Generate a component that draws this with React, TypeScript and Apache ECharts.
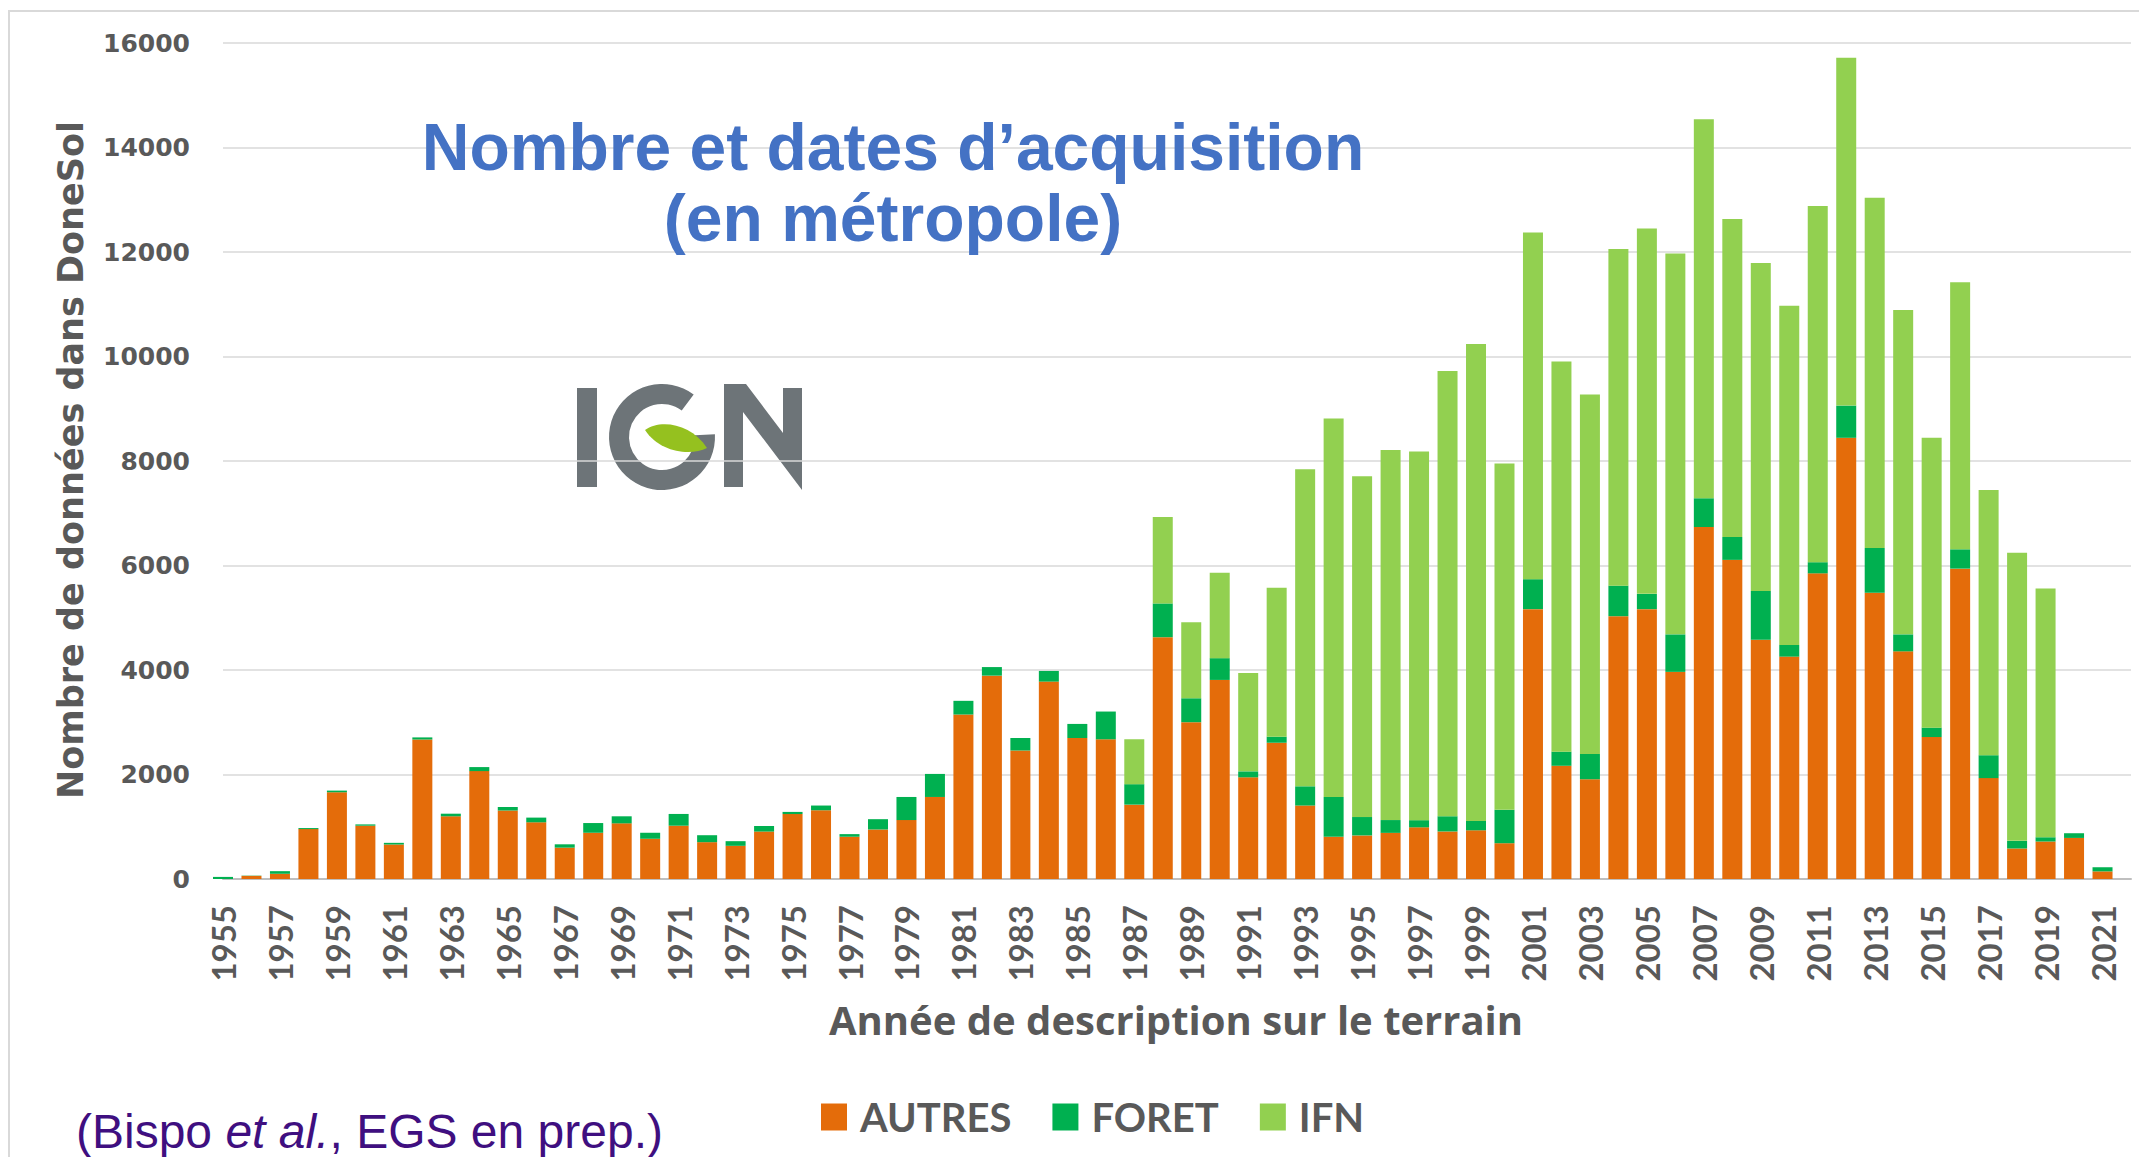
import React, { useEffect, useRef } from 'react';
import * as echarts from 'echarts';

const years = [
  '1955', '1956', '1957', '1958', '1959', '1960', '1961', '1962', '1963', '1964',
  '1965', '1966', '1967', '1968', '1969', '1970', '1971', '1972', '1973', '1974',
  '1975', '1976', '1977', '1978', '1979', '1980', '1981', '1982', '1983', '1984',
  '1985', '1986', '1987', '1988', '1989', '1990', '1991', '1992', '1993', '1994',
  '1995', '1996', '1997', '1998', '1999', '2000', '2001', '2002', '2003', '2004',
  '2005', '2006', '2007', '2008', '2009', '2010', '2011', '2012', '2013', '2014',
  '2015', '2016', '2017', '2018', '2019', '2020', '2021', '2022',
];

const autres = [
  0, 60, 100, 955, 1660, 1020, 660, 2670, 1200, 2065,
  1310, 1085, 600, 885, 1065, 770, 1020, 705, 635, 908,
  1243, 1316, 809, 948, 1128, 1570, 3148, 3892, 2461, 3778,
  2698, 2674, 1423, 4628, 3001, 3810, 1946, 2608, 1406, 809,
  834, 883, 989, 910, 932, 685, 5165, 2167, 1909, 5030,
  5165, 3964, 6737, 6108, 4581, 4256, 5850, 8444, 5479, 4357,
  2717, 5940, 1931, 584, 719, 786, 146,
];

const foret = [
  40, 5, 50, 20, 32, 25, 32, 40, 50, 77,
  70, 90, 64, 186, 135, 115, 225, 133, 89, 106,
  41, 90, 50, 197, 442, 441, 262, 164, 237, 204,
  270, 531, 392, 646, 458, 417, 114, 115, 368, 761,
  352, 245, 137, 291, 180, 640, 573, 270, 483, 584,
  292, 718, 550, 438, 932, 224, 213, 617, 854, 325,
  180, 370, 438, 146, 78, 90, 79,
];

const ifn = [
  0, 0, 0, 0, 0, 0, 0, 0, 0, 0,
  0, 0, 0, 0, 0, 0, 0, 0, 0, 0,
  0, 0, 0, 0, 0, 0, 0, 0, 0, 0,
  0, 0, 859, 1652, 1455, 1636, 1881, 2853, 6067, 7244,
  6524, 7081, 7055, 8523, 9128, 6625, 6636, 7466, 6883, 6445,
  6995, 7288, 7254, 6086, 6277, 6490, 6816, 6659, 6703, 6210,
  5547, 5109, 5075, 5513, 4761, 0, 0,
];

const seriesNames = ['AUTRES', 'FORET', 'IFN'];
const seriesColors = ['#E46C0A', '#00B050', '#92D050'];

const leafPath = 'M0 0 C15 -11 46 -7 62 18 C46 26 15 23 0 0 Z';

const GREY = '#595959';
const LOGO_GREY = '#6D7478';

export default function App() {
  const ref = useRef<HTMLDivElement>(null);

  useEffect(() => {
    document.body.style.margin = '0';
    echarts.graphic.registerShape('leaf', echarts.graphic.extendPath(leafPath, {}));
    const chart = echarts.init(ref.current as HTMLDivElement, null, { renderer: 'svg' });
    const values = [autres, foret, ifn];

    chart.setOption({
      animation: false,
      backgroundColor: '#ffffff',
      grid: { left: 223, right: 8, top: 43, bottom: 278, containLabel: false },
      legend: {
        data: seriesNames,
        left: 816,
        top: 1092,
        icon: 'rect',
        itemWidth: 26,
        itemHeight: 27,
        itemGap: 41,
        textStyle: {
          fontFamily: 'Lato',
          fontWeight: 'bold',
          fontSize: 40,
          color: GREY,
          padding: [0, 0, 0, 8],
        },
      },
      xAxis: {
        type: 'category',
        data: years,
        boundaryGap: false,
        axisLine: { lineStyle: { color: '#BFBFBF', width: 2 } },
        axisTick: { show: false },
        splitLine: { show: false },
        axisLabel: {
          rotate: 90,
          interval: (idx: number) => idx % 2 === 0 && idx < years.length - 1,
          margin: 26,
          fontFamily: 'Lato',
          fontWeight: 'bold',
          fontSize: 33,
          color: GREY,
        },
      },
      yAxis: {
        type: 'value',
        min: 0,
        max: 16000,
        interval: 2000,
        axisLine: { show: false },
        axisTick: { show: false },
        splitLine: { lineStyle: { color: '#D9D9D9', width: 1.5 } },
        axisLabel: {
          margin: 33,
          fontFamily: 'DejaVu Sans',
          fontWeight: 'bold',
          fontSize: 25,
          color: GREY,
          formatter: (v: number) => String(v),
        },
      },
      series: seriesNames.map((name, i) => ({
        name,
        type: 'bar',
        stack: 'total',
        barWidth: 20,
        itemStyle: { color: seriesColors[i] },
        data: values[i],
      })),
      graphic: [
        {
          type: 'rect',
          z: -10,
          silent: true,
          shape: { x: 9, y: 11, width: 2200, height: 1200 },
          style: { fill: 'none', stroke: '#D9D9D9', lineWidth: 2 },
        },
        {
          type: 'group',
          z: 5,
          children: [
            {
              type: 'rect',
              shape: { x: 533, y: 343, width: 307, height: 167 },
              style: { fill: '#ffffff' },
            },
            {
              type: 'rect',
              shape: { x: 577, y: 388, width: 20, height: 99 },
              style: { fill: LOGO_GREY },
            },
            {
              type: 'sector',
              shape: { cx: 662, cy: 437, r: 53, r0: 33, startAngle: -0.05, endAngle: Math.PI * 2 - 0.93, clockwise: true },
              style: { fill: LOGO_GREY },
            },
            {
              type: 'polygon',
              shape: {
                points: [
                  [724, 487], [724, 384], [746, 384], [783, 433], [783, 388],
                  [802, 388], [802, 490], [743, 412], [743, 487],
                ],
              },
              style: { fill: LOGO_GREY },
            },
            {
              type: 'leaf',
              x: 645,
              y: 430,
              style: { fill: '#95C11F' },
            },
          ],
        },
        {
          type: 'text',
          z: 10,
          x: 893,
          y: 182,
          style: {
            text: 'Nombre et dates d’acquisition\n(en métropole)',
            fontFamily: 'Liberation Sans',
            fontWeight: 'bold',
            fontSize: 66,
            lineHeight: 71,
            fill: '#4472C4',
            textAlign: 'center',
            textVerticalAlign: 'middle',
          },
        },
        {
          type: 'text',
          z: 10,
          x: 71,
          y: 460,
          rotation: Math.PI / 2,
          style: {
            text: 'Nombre de données dans DoneSol',
            fontFamily: 'DejaVu Sans',
            fontWeight: 'bold',
            fontSize: 35,
            fill: GREY,
            textAlign: 'center',
            textVerticalAlign: 'middle',
          },
        },
        {
          type: 'text',
          z: 10,
          x: 1176,
          y: 1019,
          style: {
            text: 'Année de description sur le terrain',
            fontFamily: 'Open Sans',
            fontWeight: 'bold',
            fontSize: 40,
            fill: GREY,
            textAlign: 'center',
            textVerticalAlign: 'middle',
          },
        },
        {
          type: 'text',
          z: 10,
          x: 76,
          y: 1131,
          style: {
            text: '{a|(Bispo }{i|et al.}{a|, EGS en prep.)}',
            textVerticalAlign: 'middle',
            rich: {
              a: { fontFamily: 'Liberation Sans', fontSize: 48, fill: '#3F0F80', color: '#3F0F80' },
              i: { fontFamily: 'Liberation Sans', fontSize: 48, fontStyle: 'italic', fill: '#3F0F80', color: '#3F0F80' },
            },
          },
        },
      ],
    });

    return () => chart.dispose();
  }, []);

  return <div ref={ref} style={{ width: 2139, height: 1157, background: '#ffffff' }} />;
}
